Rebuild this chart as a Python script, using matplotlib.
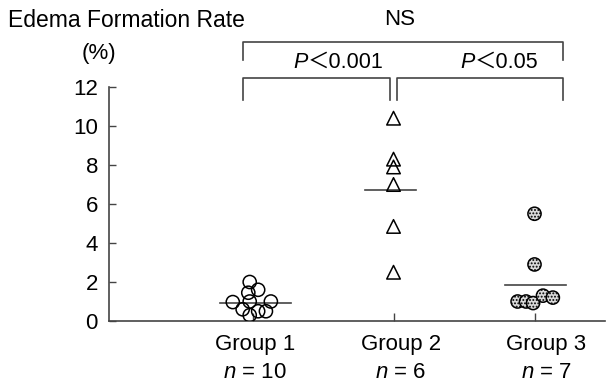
import matplotlib.pyplot as plt

plt.rcParams['font.family'] = ['Liberation Sans', 'Noto Sans CJK JP', 'DejaVu Sans']
plt.rcParams['mathtext.fontset'] = 'custom'
plt.rcParams['mathtext.rm'] = 'Liberation Sans'
plt.rcParams['mathtext.it'] = 'Liberation Sans:italic'
plt.rcParams['hatch.color'] = '#8a8a8a'
plt.rcParams['hatch.linewidth'] = 0.9

# -----------------------------
# DATA
# -----------------------------
groups = ["Group 1", "Group 2", "Group 3"]
n_labels = ["10", "6", "7"]

g1_values = [2.0, 1.6, 1.45, 0.97, 0.6, 1.0, 0.3, 0.5, 0.5, 1.0]
g1_jitter = [-0.02, 0.04, -0.03, -0.14, -0.07, -0.02, -0.02, 0.04, 0.095, 0.13]

g2_values = [10.4, 8.3, 7.9, 7.0, 4.85, 2.5]
g2_jitter = [0, 0, 0, 0, 0, 0]

g3_values = [5.5, 2.9, 1.0, 1.0, 0.92, 1.3, 1.2]
g3_jitter = [0, 0, -0.12, -0.06, -0.01, 0.06, 0.13]

medians = [0.92, 6.7, 1.85]
median_span = [(0.77, 1.27), (1.8, 2.16), (2.79, 3.22)]

# -----------------------------
# FIGURE
# -----------------------------
fig = plt.figure(figsize=(6.09, 3.82), dpi=100)
ax = fig.add_axes([109 / 609, 61 / 382, 496 / 609, 234 / 382])

ax.scatter([1 + j for j in g1_jitter], g1_values, s=90, facecolor='none',
           edgecolor='black', linewidth=1.1, zorder=3)
ax.scatter([2 + j for j in g2_jitter], g2_values, s=95, marker='^',
           facecolor='none', edgecolor='black', linewidth=1.1, zorder=3)
ax.scatter([3 + j for j in g3_jitter], g3_values, s=90, facecolor='#dadada',
           edgecolor='black', linewidth=1.1, hatch='.....', zorder=3)

for m, (x0, x1) in zip(medians, median_span):
    ax.plot([x0, x1], [m, m], color='#444444', linewidth=1.2, zorder=2)

ax.set_xlim(-0.018, 3.5)
ax.set_ylim(0, 12)
ax.set_yticks(range(0, 13, 2))
ax.set_xticks([1, 2, 3])
ax.set_xticklabels([])
ax.spines['top'].set_visible(False)
ax.spines['right'].set_visible(False)
for s in ['left', 'bottom']:
    ax.spines[s].set_color('#444444')
    ax.spines[s].set_linewidth(1.2)
ax.tick_params(axis='y', direction='in', length=5, width=1, labelsize=16,
               color='#444444', pad=8)
ax.tick_params(axis='x', direction='in', length=6, width=1, color='#444444')

# group labels under axis
label_x = [1.018, 2.053, 3.082]
for x, g, n in zip(label_x, groups, n_labels):
    ax.text(x, -1.49, g, ha='center', va='baseline', fontsize=16, clip_on=False)
    ax.text(x, -2.92, "$n$ = " + n, ha='center', va='baseline', fontsize=16,
            clip_on=False)

# brackets
bk = dict(color='#444444', linewidth=1.2, clip_on=False)
ax.plot([0.933, 0.933, 3.202, 3.202], [13.38, 14.31, 14.31, 13.38], **bk)
ax.plot([0.933, 0.933, 1.975, 1.975], [11.33, 12.46, 12.46, 11.33], **bk)
ax.plot([2.025, 2.025, 3.202, 3.202], [11.33, 12.46, 12.46, 11.33], **bk)

ax.text(2.046, 15.18, "NS", ha='center', va='baseline', fontsize=16,
        clip_on=False)
for x, txt in [(1.287, "＜0.001"), (2.472, "＜0.05")]:
    tp = ax.text(x, 13.0, "P", ha='left', va='baseline', fontsize=15.5,
                 style='italic', clip_on=False)
    ax.annotate(txt, xy=(1, 0), xycoords=tp, ha='left', va='bottom',
                fontsize=15.5, annotation_clip=False)

fig.text(8 / 609, 1 - 27 / 382, "Edema Formation Rate", ha='left',
         va='baseline', fontsize=16.5)
fig.text(99 / 609, 1 - 53 / 382, "(%)", ha='center', va='center', fontsize=16)

fig.savefig("out.png", dpi=100)
